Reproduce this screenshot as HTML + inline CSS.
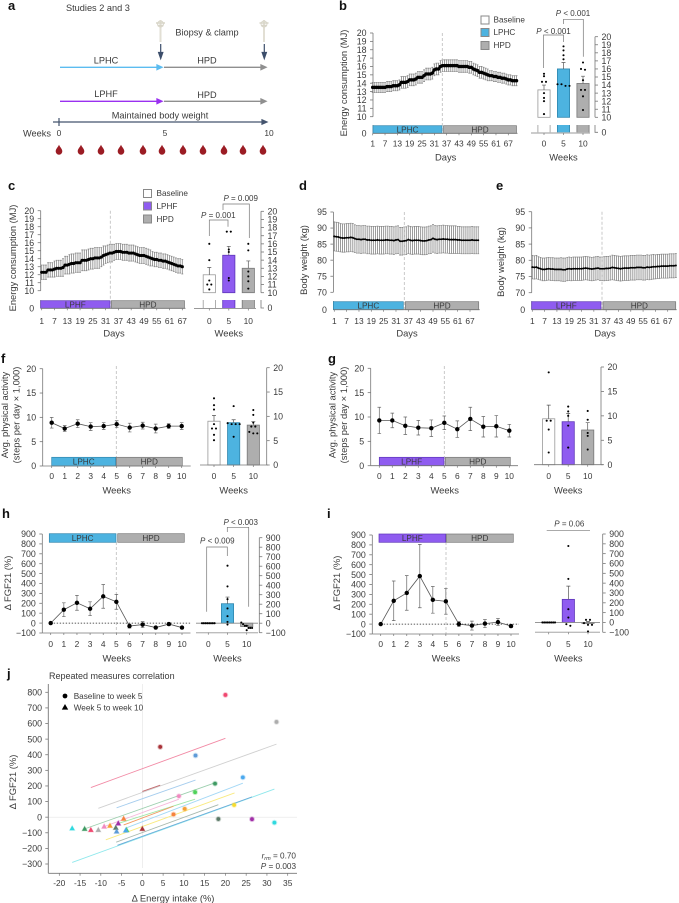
<!DOCTYPE html>
<html>
<head>
<meta charset="utf-8">
<title>Energy consumption, body weight, activity and FGF21</title>
<style>
html,body{margin:0;padding:0;background:#fff;}
svg{display:block;font-family:"Liberation Sans",sans-serif;}
svg text{fill:#3a3a3a;}
</style>
</head>
<body>
<svg id="fig" xmlns="http://www.w3.org/2000/svg" width="679" height="903" viewBox="0 0 679 903">
  <defs>
    <path id="drop" d="M0,-5.2C.8,-3 3.3,-1.2 3.3,1.4A3.3,3.3 0 1 1 -3.3,1.4C-3.3,-1.2 -.8,-3 0,-5.2Z" fill="#9b1c24"/>
    <g id="syringe">
      <rect x="-1" y="-12" width="2" height="22" fill="#e2dfd4"/>
      <path d="M-4.5,-9H4.5M-3,-6.5H3" stroke="#d8d5c8" stroke-width="1.4" fill="none"/>
      <circle cx="0" cy="-8" r="3" fill="none" stroke="#d8d5c8" stroke-width="0.9"/>
    </g>
  </defs>
  <g id="panel-a" font-size="9.2">
    <text x="66" y="11">Studies 2 and 3</text>
    <text x="207" y="35.5" text-anchor="middle">Biopsy &amp; clamp</text>
    <use href="#syringe" x="160.5" y="32"/>
    <use href="#syringe" x="264" y="32"/>
    <path d="M160.7,44V56M158.6,52.5L160.7,58.5L162.8,52.5Z" stroke="#3c4e6b" stroke-width="1.2" fill="#3c4e6b"/>
    <path d="M264.3,44V56M262.2,52.5L264.3,58.5L266.4,52.5Z" stroke="#3c4e6b" stroke-width="1.2" fill="#3c4e6b"/>
    <text x="106" y="63.5" text-anchor="middle">LPHC</text>
    <text x="207" y="63.5" text-anchor="middle">HPD</text>
    <path d="M60,67.3H159M157,65L162,67.3L157,69.6Z" stroke="#5cbcf0" stroke-width="1.3" fill="#5cbcf0"/>
    <path d="M164,67.3H263M261,65L266,67.3L261,69.6Z" stroke="#8f8f8f" stroke-width="1.3" fill="#8f8f8f"/>
    <text x="106" y="97" text-anchor="middle">LPHF</text>
    <text x="207" y="98" text-anchor="middle">HPD</text>
    <path d="M60,101.3H159M157,99L162,101.3L157,103.6Z" stroke="#9a30f0" stroke-width="1.3" fill="#9a30f0"/>
    <path d="M164,101.3H263M261,99L266,101.3L261,103.6Z" stroke="#8f8f8f" stroke-width="1.3" fill="#8f8f8f"/>
    <text x="160" y="118.5" text-anchor="middle">Maintained body weight</text>
    <path d="M53,122H264M262,119.8L267,122L262,124.2ZM59,118V126" stroke="#44546e" stroke-width="1.2" fill="#44546e"/>
    <text x="23" y="136.5">Weeks</text>
    <text x="59" y="136" text-anchor="middle" font-size="8.4">0</text>
    <text x="165" y="136" text-anchor="middle" font-size="8.4">5</text>
    <text x="269" y="136" text-anchor="middle" font-size="8.4">10</text>
    <g>
      <use href="#drop" x="59" y="150"/><use href="#drop" x="81" y="150"/><use href="#drop" x="101" y="150"/><use href="#drop" x="121" y="150"/><use href="#drop" x="143" y="150"/><use href="#drop" x="162" y="150"/><use href="#drop" x="183" y="150"/><use href="#drop" x="203" y="150"/><use href="#drop" x="224" y="150"/><use href="#drop" x="243" y="150"/><use href="#drop" x="263" y="150"/>
    </g>
  </g>
  <g font-size="13" font-weight="bold">
    <text x="8" y="10" style="fill:#111">a</text>
    <text x="339" y="10" style="fill:#111">b</text>
    <text x="8" y="190" style="fill:#111">c</text>
    <text x="299" y="190" style="fill:#111">d</text>
    <text x="496" y="190" style="fill:#111">e</text>
    <text x="1" y="363" style="fill:#111">f</text>
    <text x="328" y="363" style="fill:#111">g</text>
    <text x="2" y="518" style="fill:#111">h</text>
    <text x="327" y="518" style="fill:#111">i</text>
    <text x="7" y="678" style="fill:#111">j</text>
  </g>
  <g font-size="8.2">
    <rect x="481" y="16" width="8" height="8" fill="#fff" stroke="#888"/>
    <text x="493.5" y="22.5">Baseline</text>
    <rect x="481" y="28.5" width="8" height="8" fill="#4db3e0" stroke="#888"/>
    <text x="493.5" y="35">LPHC</text>
    <rect x="481" y="41.5" width="8" height="8" fill="#aeaeae" stroke="#888"/>
    <text x="493.5" y="48">HPD</text>
  </g>
  <g font-size="8.2">
    <rect x="143.5" y="189.5" width="8" height="8" fill="#fff" stroke="#888"/>
    <text x="156.5" y="196">Baseline</text>
    <rect x="143.5" y="202" width="8" height="8" fill="#8f5cf0" stroke="#888"/>
    <text x="156.5" y="209">LPHF</text>
    <rect x="143.5" y="215" width="8" height="8" fill="#aeaeae" stroke="#888"/>
    <text x="156.5" y="222">HPD</text>
  </g>
  <g font-size="9.4" text-anchor="middle">
    <text transform="translate(347,83) rotate(-90)">Energy consumption (MJ)</text>
    <text transform="translate(16,258) rotate(-90)">Energy consumption (MJ)</text>
    <text transform="translate(307,260) rotate(-90)">Body weight (kg)</text>
    <text transform="translate(504,262) rotate(-90)">Body weight (kg)</text>
    <text transform="translate(8,415) rotate(-90)">Avg. physical activity</text>
    <text transform="translate(19.5,415) rotate(-90)">(steps per day × 1,000)</text>
    <text transform="translate(335.5,415) rotate(-90)">Avg. physical activity</text>
    <text transform="translate(347,415) rotate(-90)">(steps per day × 1,000)</text>
    <text transform="translate(11,583) rotate(-90)">Δ FGF21 (%)</text>
    <text transform="translate(340,583) rotate(-90)">Δ FGF21 (%)</text>
    <text transform="translate(16,782) rotate(-90)">Δ FGF21 (%)</text>
  </g>
  <g id="charts"></g>
</svg>
<script>
// ---------- data: daily series ----------
const dayTicks = [1,7,13,19,25,31,37,43,49,55,61,67];
const energyTicks = [10,11,12,13,14,15,16,17,18,19,20];
const weightTicks = [70,75,80,85,90,95];
const activityTicks = [0,5,10,15,20];
const fgfTicks = [-100,0,100,200,300,400,500,600,700,800,900];
const weekTicks = [0,1,2,3,4,5,6,7,8,9,10];
const barWeeks = [0,5,10];

const meanB = [13.5,13.5,13.5,13.5,13.5,13.5,13.5,13.6,13.6,13.6,13.7,13.7,13.7,13.8,14.1,14.1,14.1,14.2,14.4,14.4,14.4,14.5,14.7,14.7,14.7,14.9,15.1,15.1,15.1,15.2,15.6,15.7,15.7,16.0,16.1,16.1,16.1,16.1,16.1,16.1,16.1,16.1,16.0,16.0,16.0,16.0,16.0,15.9,15.9,15.7,15.6,15.5,15.3,15.3,15.2,15.1,15.0,14.9,14.9,14.8,14.8,14.7,14.7,14.6,14.6,14.5,14.4,14.4,14.3,14.3,14.3];
const errB = [.6,.6,.6,.6,.6,.6,.6,.6,.6,.6,.6,.6,.6,.6,.7,.7,.7,.7,.7,.7,.7,.7,.7,.7,.7,.7,.7,.7,.7,.7,.7,.7,.7,.7,.7,.7,.7,.7,.7,.7,.7,.7,.7,.7,.7,.7,.7,.7,.7,.7,.7,.7,.7,.7,.7,.7,.7,.6,.6,.6,.6,.6,.6,.6,.6,.6,.6,.6,.6,.6,.6];
const meanC = [12.3,12.3,12.3,12.6,12.6,12.6,12.7,12.8,12.8,12.8,12.9,13.2,13.2,13.3,13.4,13.4,13.5,13.5,13.5,13.8,13.8,13.8,13.9,14.0,14.0,14.1,14.1,14.1,14.2,14.4,14.5,14.6,14.7,14.7,14.8,14.9,14.9,14.9,14.8,14.8,14.8,14.7,14.7,14.7,14.6,14.5,14.4,14.4,14.4,14.3,14.2,14.1,14.0,13.9,13.9,13.8,13.8,13.7,13.7,13.6,13.5,13.4,13.3,13.2,13.1,13.1,13.0];
const errC = [.9,.9,.9,.9,.9,.9,1,1,1,1,1.1,1.1,1.1,1.2,1.2,1.2,1.2,1.2,1.2,1.3,1.3,1.3,1.3,1.3,1.3,1.3,1.3,1.3,1.2,1.2,1.1,1.1,1.1,1.1,1,1,1,1,1,1,1,1,1,1,1,1,1,1,1,1,1,1,.9,.9,.9,.9,.9,.9,.9,.9,.9,.9,.9,.9,.9,.9,.9];
const meanD = [87.4,87.3,87.2,87.0,86.9,86.9,87.0,87.0,87.1,87.0,86.7,86.5,86.5,86.4,86.5,86.5,86.3,86.3,86.2,86.2,86.2,86.3,86.2,86.2,86.2,86.3,86.3,86.2,86.2,86.1,86.3,86.4,85.9,85.9,86.0,86.1,86.4,86.2,86.1,86.2,86.2,86.2,86.1,86.0,86.0,86.1,86.3,86.4,86.8,86.5,86.4,86.5,86.5,86.6,86.5,86.5,86.4,86.4,86.4,86.4,86.3,86.3,86.2,86.2,86.2,86.2,86.2,86.3,86.2,86.2,86.2];
const errD = [4.5,4.5,4.5,4.4,4.4,4.4,4.4,4.4,4.4,4.4,4.3,4.3,4.3,4.3,4.3,4.3,4.3,4.3,4.3,4.3,4.3,4.3,4.3,4.3,4.3,4.3,4.3,4.3,4.3,4.3,4.3,4.3,4.3,4.3,4.3,4.3,4.3,4.3,4.3,4.3,4.3,4.3,4.3,4.3,4.3,4.3,4.3,4.3,4.3,4.3,4.3,4.3,4.3,4.3,4.3,4.3,4.3,4.3,4.3,4.3,4.2,4.2,4.2,4.2,4.2,4.2,4.2,4.2,4.2,4.2,4.2];
const meanE = [77.9,77.8,77.9,77.6,77.4,77.2,77.2,77.3,77.4,77.3,77.3,77.2,77.2,77.2,77.2,77.1,77.1,77.3,77.4,77.3,77.4,77.4,77.4,77.4,77.4,77.5,77.6,77.5,77.4,77.3,77.4,77.5,77.6,77.4,77.4,77.4,77.5,77.5,77.6,77.8,77.7,77.6,77.5,77.4,77.5,77.6,77.6,77.6,77.7,77.7,77.7,77.8,77.8,77.8,77.7,77.7,77.9,77.8,77.9,78.0,78.0,78.1,78.1,78.2,78.2,78.2,78.2,78.3,78.3,78.3,78.4];
const errE = [3.6,3.6,3.6,3.5,3.5,3.5,3.5,3.5,3.5,3.5,3.5,3.5,3.5,3.5,3.6,3.6,3.6,3.6,3.6,3.6,3.6,3.6,3.6,3.6,3.6,3.6,3.6,3.6,3.6,3.6,3.6,3.6,3.6,3.6,3.6,3.7,3.7,3.7,3.7,3.8,3.8,3.8,3.8,3.8,3.8,3.8,3.8,3.8,3.8,3.8,3.8,3.8,3.8,3.8,3.8,3.8,3.8,3.8,3.8,3.8,3.7,3.7,3.7,3.7,3.7,3.7,3.7,3.7,3.7,3.7,3.7];

// ---------- data: weekly series ----------
const meanF = [8.9,7.7,8.7,8.1,8.2,8.6,7.9,8.3,7.7,8.2,8.2];
const errF = [1.1,.6,.8,.8,.7,.7,.9,.7,.9,.5,.7];
const meanG = [9.3,9.3,8.2,7.8,7.7,8.8,7.5,9.6,8.0,8.1,7.2];
const errG = [2.7,1.5,1.8,1.5,1.7,1.4,1.7,2.4,2.1,2.2,1.3];
const meanH = [0,135,205,145,270,215,-30,-15,-45,-10,-45];
const errH = [0,70,75,70,120,75,20,30,12,15,10];
const meanI = [0,235,315,485,245,230,0,-15,5,20,-20];
const errI = [0,200,175,320,135,130,25,45,40,35,15];

// ---------- data: bar summaries ----------
const barB = [13.4,16.0,14.2];
const barErrB = [.6,.8,.9];
const dotsB = [[15.4,15.1,14.4,14.4,13,12.4,12,10.4],[18.8,18.3,17.7,17.2,14.1,14.1,13.9,13.9],[16.8,16,15.9,14.6,13.4,13.4,12.6,10.9]];
const barC = [12.2,14.6,13.0];
const barErrC = [.9,1.1,.9];
const dotsC = [[16,14,11.5,11,11,10.4],[17.5,17.5,15.3,15,11.8,11.5],[16,15.2,12.6,12,11.4,10.5]];
const barF = [9.0,8.7,8.2];
const barErrF = [1.2,.6,.7];
const dotsF = [[13.7,12.3,11.4,8.4,7.5,7.5,6.2,5.1],[12.1,8.6,8.4,8.4,8.4,5.8],[11.3,10.3,8.7,7.9,7.9,6.8,6.5,6.5]];
const barG = [9.4,8.8,7.1];
const barErrG = [2.8,1.7,1.5];
const dotsG = [[18.9,9,9,7.2,2.5],[11.9,10.9,10,8,3.5],[11,9.2,6.5,5.9,3.1]];
const barH = [0,205,-35];
const barErrH = [0,70,12];
const dotsH = [[0,0,0,0,0,0,0,0],[605,387,253,155,74,14,-14],[7,-10,-28,-28,-50,-50,-50,-74]];
const barI = [0,235,-10];
const barErrI = [0,135,20];
const dotsI = [[0,0,0,0,0,0,0,0],[778,443,135,50,-17,-34],[27,27,-7,-24,-24,-91]];

// ---------- data: correlation panel ----------
const corrXTicks = [-20,-15,-10,-5,0,5,10,15,20,25,30,35];
const corrYTicks = [-300,-200,-100,0,100,200,300,400,500,600,700,800];
const baselineX = [4.3,20,32.3,12.8,24.2,17.5,8.8,12.7,7.5,10.2,22.1,18.3,26.4,31.8];
const baselineY = [450,783,610,395,255,215,135,160,18,53,78,-12,-13,-35];
const baselineColors = ['#a83238','#f0476f','#adadad','#5d9bd8','#4aa8ee','#3f9a63','#f08ac0','#4fd25a','#f5823e','#f5a033','#f7dc2e','#5c7a68','#a12fa8','#2fd9df'];
const followX = [-16.9,-13.9,-12.4,-10.6,-9.2,-7.8,-6.4,-6.2,-5.8,-4.5,-3.8,-4,0];
const followY = [-72,-75,-82,-82,-60,-55,-68,-92,-40,-10,-82,-85,-75];
const followColors = ['#2fd9df','#3f9a63','#f0476f','#adadad','#f08ac0','#f5a033','#5c7a68','#5d9bd8','#a12fa8','#f5823e','#4fd25a','#4aa8ee','#a83238'];
const fitStartX = [-12.4,-10.6,0,-6.2,-4,-13.9,-9.2,-5.8,-4.5,-8.8,-6.3,-16.9,-6];
const fitStartY = [190,57,165,60,-70,-75,-60,-40,-50,-145,-160,-290,-180];
const fitEndX = [20,32.3,4.3,12.8,24.2,17.5,8.8,12.7,7.5,22.2,18.3,31.8,26.4];
const fitEndY = [505,468,205,238,218,220,115,115,70,155,80,180,130];
const fitColors = ['#f28aa5','#d0d0d0','#c46a6e','#a6cdee','#a4d8f6','#9ccfae','#f5b8da','#9fe6a5','#f29a62','#f9ea80','#a7b8ae','#8fe8ec','#6aa8d8'];

// ---------- helpers ----------
const NS = 'http://www.w3.org/2000/svg';
const root = document.getElementById('charts');
const AXIS = '#777';
const COLORS = {LPHC:'#4db3e0', LPHF:'#8f5cf0', HPD:'#aeaeae', white:'#fff'};
const EDGE = {LPHC:'#2f86ad', LPHF:'#5d35b8', HPD:'#777', white:'#999'};

function node(parent, tag, attrs, txt){
  const el = document.createElementNS(NS, tag);
  for (const k in attrs) el.setAttribute(k, attrs[k]);
  if (txt !== undefined) el.textContent = txt;
  parent.appendChild(el);
  return el;
}
function scale(d0, d1, r0, r1){ return v => r0 + (v - d0) * (r1 - r0) / (d1 - d0); }
function label(parent, x, y, str, anchor, size){
  return node(parent, 'text', {x:x, y:y + size * 0.36, 'text-anchor':anchor, 'font-size':size}, str);
}
function group(name){
  const g = document.createElementNS(NS, 'g');
  
  
  root.appendChild(g);
  return g;
}
function yAxis(parent, x, y, ticks, side, lo, hi){
  const ax = node(parent, 'line', {x1:x, x2:x, y1:y(lo), y2:y(hi), stroke:AXIS, 'stroke-width':0.8});
  
  
  ticks.forEach(t => {
    const tk = node(parent, 'line', {x1:x, x2:x + side * 3, y1:y(t), y2:y(t), stroke:AXIS, 'stroke-width':0.8});
    
    
    const lb = label(parent, x + side * 6.5, y(t), String(t).replace('-', '\u2212'), side < 0 ? 'end' : 'start', 8.8);
    
    
  });
}
function xTicks(parent, x, ticks, axisY, labelY, tickLen){
  ticks.forEach(t => {
    const tk = node(parent, 'line', {x1:x(t), x2:x(t), y1:axisY, y2:axisY + tickLen, stroke:AXIS, 'stroke-width':0.7});
    
    
    const lb = label(parent, x(t), labelY, String(t), 'middle', 8.4);
    
    
  });
}
function xTitle(parent, x, y, str){
  const t = label(parent, x, y, str, 'middle', 9.4);
  
  
}
function hline(parent, x1, x2, y, color, w){
  const l = node(parent, 'line', {x1:x1, x2:x2, y1:y, y2:y, stroke:color, 'stroke-width':w});
  
  
}
function dashed(parent, x, y1, y2){
  const l = node(parent, 'line', {x1:x, x2:x, y1:y1, y2:y2, stroke:'#bbb', 'stroke-width':0.8, 'stroke-dasharray':'3 2'});
  
  
}
function regime(parent, x1, x2, y1, y2, key){
  const r = node(parent, 'rect', {x:x1, y:y1, width:x2 - x1, height:y2 - y1, fill:COLORS[key], stroke:EDGE[key], 'stroke-width':0.7});
  
  
  const t = label(parent, (x1 + x2) / 2, (y1 + y2) / 2, key, 'middle', 8.2);
  
  
}
function bracket(parent, x1, x2, y, leftEnd, rightEnd, str, tx, ty){
  const p = node(parent, 'path', {d:'M' + x1 + ',' + leftEnd + 'V' + y + 'H' + x2 + 'V' + rightEnd, fill:'none', stroke:'#777', 'stroke-width':0.7});
  
  
  const t = node(parent, 'text', {x:tx, y:ty + 3, 'text-anchor':'middle', 'font-size':8});
  
  
  const i = node(t, 'tspan', {'font-style':'italic'}, 'P');
  
  
  t.appendChild(document.createTextNode(' ' + str));
}

// daily mean chart with broken axis
function dailyChart(name, c){
  const g = group(name);
  const y = scale(c.lo, c.hi, c.yLo, c.yHi);
  const x = scale(1, 67, c.x1, c.x67);
  c.mean.forEach((m, i) => {
    const px = x(i + 1);
    const w = node(g, 'path', {d:'M' + (px - 0.9) + ',' + y(m + c.err[i]) + 'H' + (px + 0.9) + 'M' + px + ',' + y(m + c.err[i]) + 'V' + y(m - c.err[i]) + 'M' + (px - 0.9) + ',' + y(m - c.err[i]) + 'H' + (px + 0.9), fill:'none', stroke:'#8a8a8a', 'stroke-width':0.85});
    
    
  });
  dashed(g, c.dash, c.yHi, c.zero);
  yAxis(g, c.axis, y, c.ticks, -1, c.lo, c.hi);
  const stub = node(g, 'line', {x1:c.axis, x2:c.axis, y1:c.zero, y2:c.stub, stroke:AXIS, 'stroke-width':0.8});
  
  
  const z0 = label(g, c.axis - 6.5, c.zero, '0', 'end', 8.8);
  
  
  c.bars.forEach(b => regime(g, b[0], b[1], c.stub + 0.7, c.zero, b[2]));
  hline(g, c.axis, c.bars[1][1] + 1, c.zero, AXIS, 0.8);
  xTicks(g, x, dayTicks, c.zero, c.labelY, 2);
  xTitle(g, c.titleX, c.titleY, 'Days');
  const pts = c.mean.map((m, i) => x(i + 1) + ',' + y(m)).join(' ');
  const ln = node(g, 'polyline', {points:pts, fill:'none', stroke:'#000', 'stroke-width':c.r});
  
  
  c.mean.forEach((m, i) => {
    const d = node(g, 'circle', {cx:x(i + 1), cy:y(m), r:c.r * 0.72, fill:'#000'});
    
    
  });
}

// weekly mean chart
function weeklyChart(name, c){
  const g = group(name);
  const y = scale(c.lo, c.hi, c.yLo, c.yHi);
  const x = scale(0, 10, c.x0, c.x10);
  dashed(g, c.dash, c.dashTop, c.yLo);
  yAxis(g, c.axis, y, c.ticks, -1, c.lo, c.hi);
  c.bars.forEach(b => regime(g, b[0], b[1], c.barTop, c.barBot, b[2]));
  hline(g, c.axis, c.end, c.yLo, AXIS, 0.8);
  xTicks(g, x, weekTicks, c.yLo, c.labelY, 2);
  xTitle(g, c.titleX, c.titleY, 'Weeks');
  if (c.zeroLine){
    const z = node(g, 'line', {x1:x(0), x2:c.end, y1:y(0), y2:y(0), stroke:'#222', 'stroke-width':0.8, 'stroke-dasharray':'1.4 1.6'});
    
    
  }
  const pts = c.mean.map((m, i) => x(i) + ',' + y(m)).join(' ');
  const ln = node(g, 'polyline', {points:pts, fill:'none', stroke:'#555', 'stroke-width':0.8});
  
  
  c.mean.forEach((m, i) => {
    const px = x(i);
    const w = node(g, 'path', {d:'M' + (px - 1.8) + ',' + y(m + c.err[i]) + 'H' + (px + 1.8) + 'M' + px + ',' + y(m + c.err[i]) + 'V' + y(m - c.err[i]) + 'M' + (px - 1.8) + ',' + y(m - c.err[i]) + 'H' + (px + 1.8), fill:'none', stroke:'#666', 'stroke-width':0.7});
    
    
    const d = node(g, 'circle', {cx:px, cy:y(m), r:2.2, fill:'#000'});
    
    
  });
}

// bar + dots summary
function barChart(name, c){
  const g = group(name);
  const y = scale(c.lo, c.hi, c.yLo, c.yHi);
  const x = scale(0, 10, c.x0, c.x10);
  const fills = ['white', c.key, 'HPD'];
  const base = c.breakVal !== undefined ? y(c.breakVal) : y(c.baseVal);
  barWeeks.forEach((w, i) => {
    const px = x(w), hw = 6.1, top = y(c.means[i]), k = fills[i];
    const bar = node(g, 'rect', {x:px - hw, y:Math.min(top, base), width:hw * 2, height:Math.max(0.6, Math.abs(base - top)), fill:COLORS[k], stroke:EDGE[k], 'stroke-width':0.8});
    
    
    if (c.breakVal !== undefined){
      const s = node(g, 'rect', {x:px - hw, y:c.stub, width:hw * 2, height:c.zero - c.stub, fill:COLORS[k], stroke:'none'});
      
      
      const sides = node(g, 'path', {d:'M' + (px - hw) + ',' + c.stub + 'V' + c.zero + 'M' + (px + hw) + ',' + c.stub + 'V' + c.zero, stroke:EDGE[k], 'stroke-width':0.8, fill:'none'});
      
      
    }
    if (c.errs[i] > 0){
      const e = node(g, 'path', {d:'M' + px + ',' + top + 'V' + y(c.means[i] + c.errs[i]) + 'M' + (px - 2) + ',' + y(c.means[i] + c.errs[i]) + 'H' + (px + 2), stroke:'#555', 'stroke-width':0.7, fill:'none'});
      
      
    }
  });
  if (c.baseLine !== undefined){
    hline(g, c.baseX1, c.baseX2, y(0), '#888', 0.9);
  }
  hline(g, c.baseX1, c.baseX2, c.bottom, c.thick ? '#bdbdbd' : AXIS, c.thick ? 1.3 : 0.8);
  barWeeks.forEach((w, i) => {
    const vals = c.dots[i];
    let start = 0;
    while (start < vals.length){
      let end = start + 1;
      while (end < vals.length && Math.abs(y(vals[end]) - y(vals[end - 1])) < 2.2) end++;
      const n = end - start, gap = n > 4 ? 1.8 : 4;
      for (let k = start; k < end; k++){
        const d = node(g, 'circle', {cx:x(w) + (k - start - (n - 1) / 2) * gap, cy:y(vals[k]), r:1.05, fill:'#000'});
        
        
      }
      start = end;
    }
  });
  yAxis(g, c.axis, y, c.ticks, 1, c.lo, c.hi);
  if (c.breakVal !== undefined){
    const st = node(g, 'path', {d:'M' + c.axis + ',' + c.stub + 'V' + c.zero + 'H' + (c.axis + 3), stroke:AXIS, 'stroke-width':0.8, fill:'none'});
    
    
    const z0 = label(g, c.axis + 6.5, c.zero, '0', 'start', 8.8);
    
    
  }
  barWeeks.forEach(w => {
    const lb = label(g, x(w), c.labelY, String(w), 'middle', 8.4);
    
    
    const tk = node(g, 'line', {x1:x(w), x2:x(w), y1:c.bottom, y2:c.bottom + 2, stroke:AXIS, 'stroke-width':0.7});
    
    
  });
  xTitle(g, x(5), c.titleY, 'Weeks');
  return g;
}

// ---------- panel b ----------
dailyChart('energy-daily-chart-b', {mean:meanB, err:errB, ticks:energyTicks, lo:10, hi:20, yLo:116.7, yHi:33, zero:133.3, stub:125, axis:373, x1:372.7, x67:508.3, dash:442.3, bars:[[373,442,'LPHC'],[443.5,516.5,'HPD']], labelY:143.7, titleX:445.7, titleY:157, r:2.4});
const gb = barChart('energy-bars-b', {key:'LPHC', means:barB, errs:barErrB, dots:dotsB, ticks:energyTicks, lo:10, hi:20, yLo:117.3, yHi:36.7, breakVal:10, zero:132.3, stub:125, bottom:133, baseX1:531, baseX2:590, axis:595, x0:544, x10:583, labelY:143.7, titleY:157});
bracket(gb, 543.5, 563.5, 35, 68, 42, '< 0.001', 553.5, 31);
bracket(gb, 563.5, 583.3, 19.3, 24, 56.7, '< 0.001', 573, 13);

// ---------- panel c ----------
dailyChart('energy-daily-chart-c', {mean:meanC, err:errC, ticks:energyTicks, lo:10, hi:20, yLo:290.7, yHi:210.7, zero:308.3, stub:300, axis:40.7, x1:41.7, x67:182.3, dash:110.3, bars:[[40.7,110,'LPHF'],[111.3,184.5,'HPD']], labelY:321, titleX:114, titleY:333, r:2.2});
const gc = barChart('energy-bars-c', {key:'LPHF', means:barC, errs:barErrC, dots:dotsC, ticks:energyTicks, lo:10, hi:20, yLo:292.7, yHi:211.3, breakVal:10, zero:308, stub:300, bottom:308.5, baseX1:194, baseX2:256, axis:261, x0:209.3, x10:248.3, labelY:321, titleY:333});
bracket(gc, 209.3, 228, 220, 236, 226.7, '= 0.001', 218.3, 215);
bracket(gc, 223, 249.3, 204, 210, 238, '= 0.009', 240.7, 198);

// ---------- panels d, e ----------
dailyChart('body-weight-chart-d', {mean:meanD, err:errD, ticks:weightTicks, lo:70, hi:95, yLo:292.3, yHi:212, zero:309.7, stub:301, axis:333.4, x1:334.3, x67:470, dash:404.3, bars:[[333.4,403.3,'LPHC'],[405.3,478.7,'HPD']], labelY:321, titleX:407, titleY:333, r:1.4});
dailyChart('body-weight-chart-e', {mean:meanE, err:errE, ticks:weightTicks, lo:70, hi:95, yLo:292.7, yHi:211.7, zero:309.7, stub:301, axis:531.7, x1:532.3, x67:667.7, dash:602, bars:[[531.7,601,'LPHF'],[603,675.7,'HPD']], labelY:321, titleX:605, titleY:333, r:1.4});

// ---------- panels f, g ----------
weeklyChart('activity-weekly-chart-f', {mean:meanF, err:errF, ticks:activityTicks, lo:0, hi:20, yLo:466, yHi:368.7, axis:42.7, x0:51.7, x10:181.7, end:190.7, dash:116.3, dashTop:366, bars:[[51.7,115.7,'LPHC'],[116.3,182.3,'HPD']], barTop:457.3, barBot:466, labelY:476, titleX:116.7, titleY:490});
barChart('activity-bars-f', {key:'LPHC', means:barF, errs:barErrF, dots:dotsF, ticks:activityTicks, lo:0, hi:20, yLo:465, yHi:367.7, baseVal:0, bottom:465, baseX1:200, baseX2:268, axis:266.7, x0:214, x10:253.3, labelY:476, titleY:490});
weeklyChart('activity-weekly-chart-g', {mean:meanG, err:errG, ticks:activityTicks, lo:0, hi:20, yLo:465.7, yHi:368.3, axis:370.7, x0:379.3, x10:509.3, end:518, dash:444.3, dashTop:366, bars:[[379.3,444,'LPHF'],[445.3,510.3,'HPD']], barTop:457.3, barBot:465.7, labelY:476, titleX:444.7, titleY:490});
barChart('activity-bars-g', {key:'LPHF', means:barG, errs:barErrG, dots:dotsG, ticks:activityTicks, lo:0, hi:20, yLo:464.7, yHi:367, baseVal:0, bottom:464.7, baseX1:534, baseX2:603, axis:601, x0:548.7, x10:587.7, labelY:476, titleY:490});

// ---------- panels h, i ----------
weeklyChart('fgf21-weekly-chart-h', {mean:meanH, err:errH, ticks:fgfTicks, lo:-100, hi:900, yLo:633, yHi:534, axis:42.3, x0:50.7, x10:182, end:190.5, dash:116.3, dashTop:542, bars:[[49.3,116,'LPHC'],[117.7,184.3,'HPD']], barTop:533.7, barBot:542.3, labelY:644, titleX:116.7, titleY:658, zeroLine:true});
const gh = barChart('fgf21-bars-h', {key:'LPHC', means:barH, errs:barErrH, dots:dotsH, ticks:fgfTicks, lo:-100, hi:900, yLo:632.7, yHi:537.7, baseVal:0, baseLine:true, bottom:632.7, thick:true, baseX1:196, baseX2:258, axis:259.3, x0:208.3, x10:246.7, labelY:644, titleY:658});
bracket(gh, 206.7, 227.3, 547, 611.7, 556, '< 0.009', 217.3, 540.3);
bracket(gh, 227.3, 248.7, 527.3, 532, 606.7, '< 0.003', 240.7, 522);
weeklyChart('fgf21-weekly-chart-i', {mean:meanI, err:errI, ticks:fgfTicks, lo:-100, hi:900, yLo:634, yHi:535, axis:372.3, x0:380.7, x10:511, end:519, dash:446, dashTop:542, bars:[[379,445.7,'LPHF'],[446.3,513.3,'HPD']], barTop:534, barBot:542.3, labelY:644, titleX:446, titleY:658, zeroLine:true});
const gi = barChart('fgf21-bars-i', {key:'LPHF', means:barI, errs:barErrI, dots:dotsI, ticks:fgfTicks, lo:-100, hi:900, yLo:632.3, yHi:534, baseVal:0, baseLine:true, bottom:632.3, thick:true, baseX1:535, baseX2:600, axis:602.7, x0:548.7, x10:588, labelY:644, titleY:658});
bracket(gi, 546.7, 590, 530.7, 530.7, 530.7, '= 0.06', 569.3, 523.3);

// ---------- panel j ----------
(function(){
  const g = group('correlation-chart-j');
  const x = scale(-20, 35, 59.3, 287.7);
  const y = scale(-300, 800, 864, 692.3);
  const v0 = node(g, 'line', {x1:x(0), x2:x(0), y1:684, y2:868, stroke:'#e6e6e6', 'stroke-width':0.7});
  
  
  const h0 = node(g, 'line', {x1:48.3, x2:297, y1:y(0), y2:y(0), stroke:'#e6e6e6', 'stroke-width':0.7});
  
  
  const yl = node(g, 'line', {x1:48.3, x2:48.3, y1:684, y2:873.3, stroke:AXIS, 'stroke-width':0.9});
  
  
  corrYTicks.forEach(t => {
    const tk = node(g, 'line', {x1:48.3, x2:45.3, y1:y(t), y2:y(t), stroke:AXIS, 'stroke-width':0.8});
    
    
    const lb = label(g, 42, y(t), String(t).replace('-', '\u2212'), 'end', 8.8);
    
    
  });
  hline(g, 48.3, 297, 873.3, AXIS, 0.9);
  xTicks(g, x, corrXTicks, 873.3, 883, 2.5);
  const xt = label(g, 173, 898, 'Δ Energy intake (%)', 'middle', 9.4);
  
  
  const tt = label(g, 49, 675.7, 'Repeated measures correlation', 'start', 9);
  
  
  fitStartX.forEach((v, i) => {
    const l = node(g, 'line', {x1:x(v), y1:y(fitStartY[i]), x2:x(fitEndX[i]), y2:y(fitEndY[i]), stroke:fitColors[i], 'stroke-width':0.9});
    
    
  });
  baselineX.forEach((v, i) => {
    const halo = node(g, 'circle', {cx:x(v), cy:y(baselineY[i]), r:2.9, fill:baselineColors[i], opacity:0.3});
    
    
    const c = node(g, 'circle', {cx:x(v), cy:y(baselineY[i]), r:1.9, fill:baselineColors[i]});
    
    
  });
  followX.forEach((v, i) => {
    const px = x(v), py = y(followY[i]);
    const tr = node(g, 'path', {d:'M' + px + ',' + (py - 2.8) + 'L' + (px + 2.6) + ',' + (py + 1.9) + 'H' + (px - 2.6) + 'Z', fill:followColors[i], stroke:followColors[i], 'stroke-opacity':0.3, 'stroke-width':0.9});
    
    
  });
  const lc = node(g, 'circle', {cx:65, cy:696, r:2.4, fill:'#000'});
  
  
  const lt = label(g, 73.7, 696, 'Baseline to week 5', 'start', 8.2);
  
  
  const ltr = node(g, 'path', {d:'M65,704L68.2,709.6H61.8Z', fill:'#000'});
  
  
  const lt2 = label(g, 73.7, 707.5, 'Week 5 to week 10', 'start', 8.2);
  
  
  const s1 = node(g, 'text', {x:296, y:858.5, 'text-anchor':'end', 'font-size':8.2});
  
  
  const r1 = node(s1, 'tspan', {'font-style':'italic'}, 'r');
  
  
  const r2 = node(s1, 'tspan', {'font-style':'italic', 'font-size':5.5, dy:1.5}, 'rm');
  
  
  const r3 = node(s1, 'tspan', {dy:-1.5}, ' = 0.70');
  
  
  const s2 = node(g, 'text', {x:296, y:869, 'text-anchor':'end', 'font-size':8.2});
  
  
  const p1 = node(s2, 'tspan', {'font-style':'italic'}, 'P');
  
  
  const p2 = node(s2, 'tspan', {}, ' = 0.003');
  
  
})();
</script>
</body>
</html>
